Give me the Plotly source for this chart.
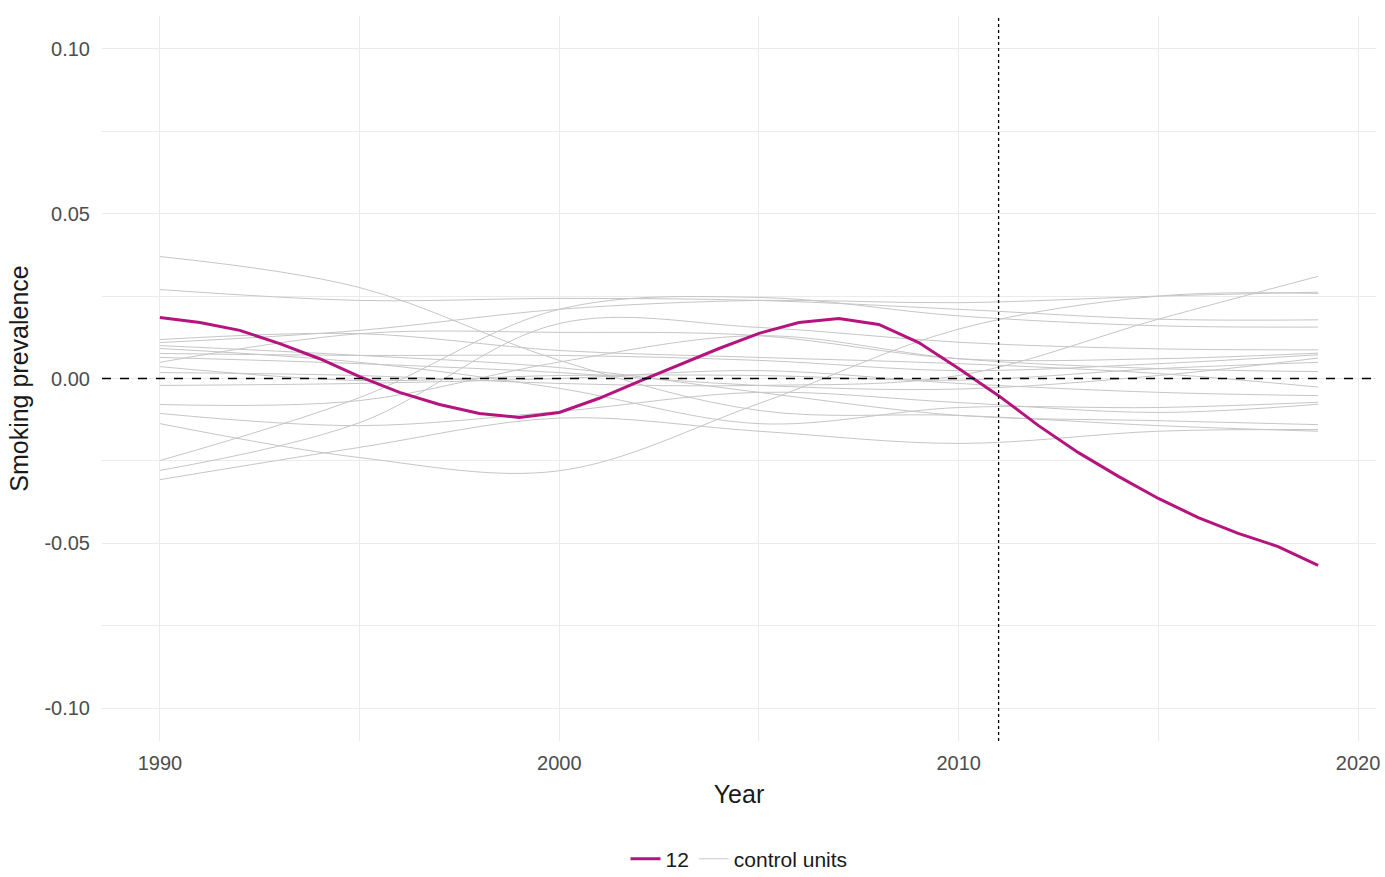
import plotly.graph_objects as go

# Treated unit (12): yearly estimates 1990-2019
years = list(range(1990, 2020))
unit_12 = [0.0185, 0.0170, 0.0146, 0.0106, 0.0060, 0.0006, -0.0042, -0.0079, -0.0106, -0.0118,
           -0.0103, -0.0060, -0.0009, 0.0042, 0.0091, 0.0137, 0.0170, 0.0182, 0.0164, 0.0109,
           0.0030, -0.0052, -0.0143, -0.0225, -0.0297, -0.0364, -0.0422, -0.0470, -0.0510, -0.0567]

# Control units, sampled every five years (plus final year)
control_years = [1990, 1995, 2000, 2005, 2010, 2015, 2019]
control_units = {
    "A": [0.0370, 0.0276, 0.0055, -0.0097, -0.0112, -0.0143, -0.0160],
    "B": [0.0270, 0.0237, 0.0243, 0.0237, 0.0210, 0.0180, 0.0178],
    "C": [-0.0137, -0.0240, -0.0280, -0.0076, 0.0150, 0.0250, 0.0258],
    "D": [0.0018, 0.0009, -0.0015, -0.0021, 0.0009, 0.0180, 0.0310],
    "E": [-0.0249, -0.0058, 0.0210, 0.0246, 0.0190, 0.0160, 0.0156],
    "F": [0.0118, 0.0136, 0.0085, 0.0064, 0.0045, 0.0015, -0.0026],
    "G": [0.0109, 0.0146, 0.0210, 0.0237, 0.0230, 0.0250, 0.0262],
    "H": [0.0100, 0.0070, 0.0033, -0.0042, -0.0112, -0.0128, -0.0140],
    "I": [0.0091, 0.0049, -0.0030, -0.0137, -0.0088, -0.0088, -0.0072],
    "J": [0.0076, 0.0070, 0.0070, 0.0055, 0.0024, 0.0045, 0.0072],
    "K": [0.0064, 0.0045, 0.0018, -0.0021, -0.0032, 0.0009, 0.0062],
    "L": [0.0049, 0.0136, 0.0140, 0.0130, 0.0060, 0.0060, 0.0077],
    "M": [0.0036, -0.0006, 0.0009, 0.0009, -0.0005, 0.0030, 0.0049],
    "N": [-0.0021, -0.0015, 0.0000, 0.0024, -0.0015, -0.0042, -0.0052],
    "O": [-0.0079, -0.0067, 0.0050, 0.0130, 0.0060, 0.0030, 0.0021],
    "P": [-0.0106, -0.0143, -0.0100, -0.0042, -0.0073, -0.0103, -0.0078],
    "Q": [-0.0279, -0.0134, 0.0167, 0.0155, 0.0110, 0.0090, 0.0087],
    "R": [-0.0307, -0.0209, -0.0120, -0.0160, -0.0197, -0.0160, -0.0155],
}

treatment_year = 2011
x_ticks = [1990, 2000, 2010, 2020]
y_ticks = [-0.10, -0.05, 0.00, 0.05, 0.10]
y_tick_labels = ["-0.10", "-0.05", "0.00", "0.05", "0.10"]

GREY = "#c6c6c6"
MAGENTA = "#b5137d"

fig = go.Figure()

for i, (name, vals) in enumerate(control_units.items()):
    fig.add_trace(go.Scatter(
        x=control_years, y=vals, mode="lines",
        line=dict(color=GREY, width=1, shape="spline", smoothing=1.0),
        name="control units", legendgroup="control",
        showlegend=(i == 0), legendrank=2, hoverinfo="skip",
    ))

fig.add_trace(go.Scatter(
    x=years, y=unit_12, mode="lines",
    line=dict(color=MAGENTA, width=3),
    name="12", legendrank=1, hoverinfo="skip",
))

# Reference lines: zero effect and treatment start
fig.add_shape(type="line", xref="paper", x0=0, x1=1, yref="y", y0=0, y1=0,
              line=dict(color="black", width=1.3, dash="dash"), layer="above")
fig.add_shape(type="line", xref="x", x0=treatment_year, x1=treatment_year,
              yref="paper", y0=0, y1=1,
              line=dict(color="black", width=1.3, dash="dot"), layer="above")

grid = "#ebebeb"
fig.update_layout(
    width=1385, height=877,
    paper_bgcolor="white", plot_bgcolor="white",
    margin=dict(l=102, r=9, t=16, b=136, autoexpand=False),
    font=dict(family="Liberation Sans, Arial, sans-serif", color="#4d4d4d"),
    showlegend=True,
    legend=dict(orientation="h", x=0.5, xanchor="center", y=-0.163, yanchor="middle",
                font=dict(size=21, color="#1a1a1a"), itemwidth=30,
                traceorder="normal", bgcolor="rgba(0,0,0,0)"),
    hovermode=False,
)

fig.update_xaxes(
    range=[1988.55, 2020.45], tickvals=x_ticks, ticks="",
    showgrid=True, gridcolor=grid, gridwidth=1.3,
    minor=dict(dtick=5, tick0=1990, showgrid=True, gridcolor=grid, gridwidth=1),
    zeroline=False, showline=False, ticklabelstandoff=8, automargin=False,
    tickfont=dict(size=20, color="#4d4d4d"),
    title=dict(text="Year", font=dict(size=25, color="#1a1a1a"), standoff=12),
)
fig.update_yaxes(
    range=[-0.11, 0.11], tickvals=y_ticks, ticktext=y_tick_labels, ticks="",
    showgrid=True, gridcolor=grid, gridwidth=1.3,
    minor=dict(dtick=0.025, tick0=0, showgrid=True, gridcolor=grid, gridwidth=1),
    zeroline=False, showline=False, ticklabelstandoff=11, automargin=False,
    tickfont=dict(size=20, color="#4d4d4d"),
    title=dict(text="Smoking prevalence", font=dict(size=25, color="#1a1a1a"), standoff=8),
)

fig.write_html("out.html")
